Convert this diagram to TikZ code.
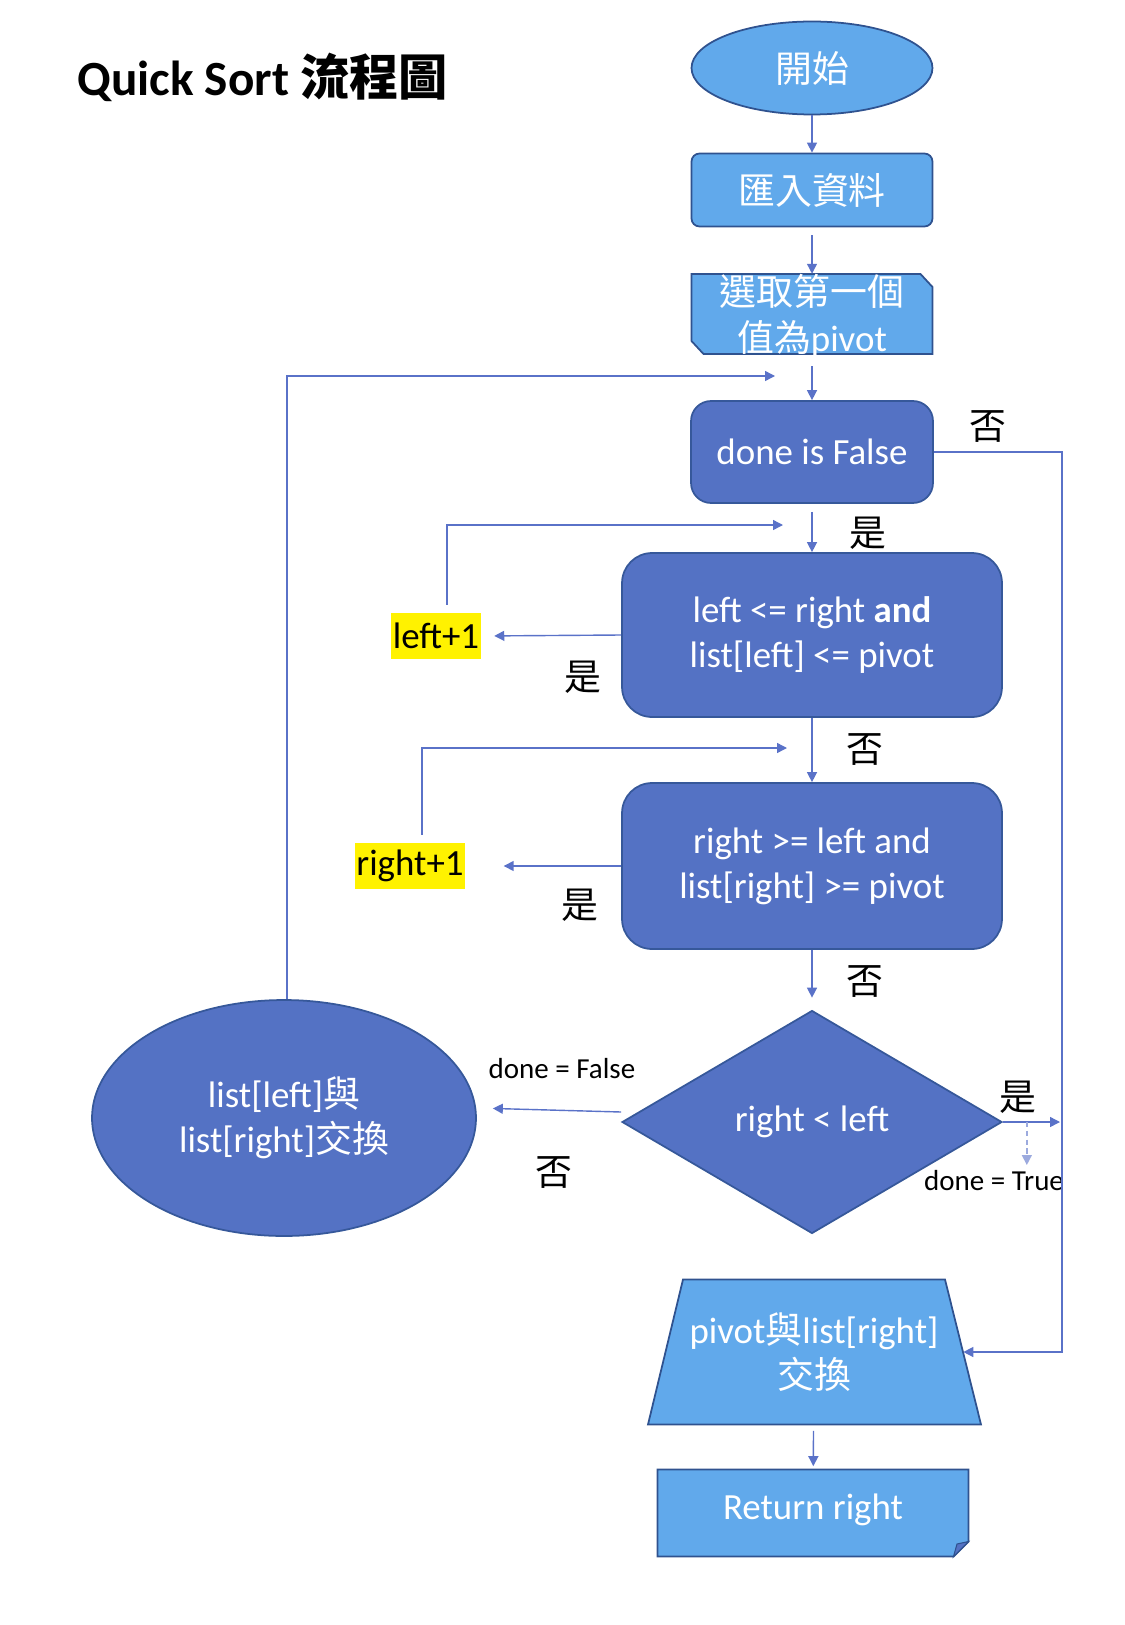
\documentclass[tikz,border=0pt]{standalone}
\usepackage{fontspec}
\setmainfont{Carlito}
\newfontfamily\cjk{Noto Sans CJK TC}
\usetikzlibrary{shapes.geometric,arrows.meta}
\definecolor{lightfill}{HTML}{61A9EB}
\definecolor{darkfill}{HTML}{5472C4}
\definecolor{edgeblue}{HTML}{2F528F}
\definecolor{flowblue}{HTML}{5A72C8}
\newcommand{\zh}[1]{{\cjk #1}}

\begin{document}
\begin{tikzpicture}[x=0.02cm, y=-0.02cm,
    every node/.style={font=\fontsize{21}{25.5}\selectfont, inner sep=0pt},
    lightbox/.style={fill=lightfill, draw=edgeblue, line width=1pt, text=white, align=center},
    darkbox/.style={fill=darkfill, draw=edgeblue!80!darkfill, line width=1pt, text=white, align=center},
    textonly/.style={text=white, align=center},
    incbox/.style={fill=yellow, inner xsep=1pt, minimum height=0.92cm},
    flow/.style={draw=flowblue, line width=0.8pt, -{Triangle[length=0.2cm,width=0.2cm]}},
    dashflow/.style={flow, draw=flowblue!60, dash pattern=on 3pt off 2pt},
    small/.style={font=\fontsize{16.5}{20}\selectfont}]
\useasboundingbox (0,0) rectangle (1125,1625);

\node[anchor=base west, font=\fontsize{28}{32}\selectfont\bfseries] (title) at (77,96) {Quick Sort \zh{流程圖}};

% outlines drawn by hand
\filldraw[lightbox, shift={(812,314)}] (-120.5,-40) -- (108.5,-40) -- (120.5,-27) -- (120.5,40) -- (-108.5,40) -- (-120.5,27) -- cycle;
\filldraw[lightbox, shift={(814,1352)}] (-131,-72.5) -- (131,-72.5) -- (167,72.5) -- (-166,72.5) -- cycle;
\filldraw[lightbox, shift={(813,1513)}] (-155.5,-43.5) -- (155.5,-43.5) -- (155.5,28.5) -- (140.5,43.5) -- (-155.5,43.5) -- cycle;
\filldraw[fill=darkfill, draw=edgeblue, line width=0.6pt, shift={(813,1513)}] (140.5,43.5) -- (144,31) -- (155.5,28.5) -- cycle;

% main column
\node[lightbox, ellipse, minimum width=4.82cm, minimum height=1.86cm] (start) at (812,68) {\zh{開始}};
\node[lightbox, rounded corners=0.16cm, minimum width=4.82cm, minimum height=1.46cm] (input) at (812,190) {\zh{匯入資料}};
\node[textonly, font=\fontsize{21}{26.5}\selectfont, minimum width=4.82cm, minimum height=1.6cm] (pick) at (812,316) {\zh{選取第一個}\\\zh{值為}pivot};
\node[darkbox, rounded corners=0.4cm, minimum width=4.84cm, minimum height=2.04cm] (done) at (812,452) {done is False};
\node[darkbox, rounded corners=0.6cm, minimum width=7.6cm, minimum height=3.28cm] (lcheck) at (812,635) {left <= right \textbf{and}\\list[left] <= pivot};
\node[darkbox, rounded corners=0.6cm, minimum width=7.6cm, minimum height=3.32cm] (rcheck) at (812,866) {right >= left and\\list[right] >= pivot};
\node[darkbox, diamond, minimum width=7.6cm, minimum height=4.46cm] (cmp) at (812,1122) {right < left};
\node[darkbox, ellipse, minimum width=7.68cm, minimum height=4.72cm] (swap) at (284,1118) {list[left]\zh{與}\\list[right]\zh{交換}};
\node[textonly, minimum width=5.96cm, minimum height=2.9cm] (pswap) at (814,1352) {pivot\zh{與}list[right]\\\zh{交換}};
\node[textonly, minimum width=6.22cm, minimum height=1.74cm] (ret) at (813,1510) {Return right};

% counters
\node[incbox] (leftinc) at (436,636) {left+1};
\node[incbox] (rightinc) at (410,866) {right+1};

% yes / no labels
\foreach \txt/\x/\y/\nm in {否/988/427/nodone, 是/868/533/yesdone, 是/583/677/yesleft,
    否/865/750/noleft, 是/580/905/yesright, 否/865/982/noright, 是/1018/1097/yescmp, 否/554/1173/nocmp}
    \node (\nm) at (\x,\y) {\zh{\txt}};
\node[small] (settrue) at (994,1181) {done = True};
\node[small] (setfalse) at (562,1069) {done = False};

% loop ends
\coordinate (toploop) at (775,376);
\coordinate (lloop) at (783,525);
\coordinate (rloop) at (787,748);
\coordinate (rail) at (1062,1352);
\coordinate (yesend) at (1060,1122);

\draw[flow] (start) -- (input);
\draw[flow, shorten <=0.16cm] (input) -- (pick);
\draw[flow, shorten <=0.16cm] (pick) -- (done);
\draw[flow, shorten <=0.16cm] (done) -- (lcheck);
\draw[flow] (done.east) -| (rail) -- (pswap.east);
\draw[flow, shorten >=0.26cm] (lcheck.west) -- (leftinc.east);
\draw[flow] ([xshift=0.22cm,yshift=0.16cm]leftinc.north) |- (lloop);
\draw[flow] (lcheck) -- (rcheck);
\draw[flow, shorten >=0.76cm] (rcheck.west) -- (rightinc.east);
\draw[flow] ([xshift=0.24cm,yshift=0.16cm]rightinc.north) |- (rloop);
\draw[flow, shorten >=0.24cm] (rcheck) -- (cmp);
\draw[flow] (cmp.east) -- (yesend);
\draw[dashflow] ([xshift=0.48cm]cmp.east) -- ([xshift=0.48cm,yshift=-0.86cm]cmp.east);
\draw[flow, shorten >=0.32cm] ([yshift=0.2cm]cmp.west) -- ([yshift=0.2cm]swap.east);
\draw[flow] ([xshift=0.06cm]swap.north) |- (toploop);
\draw[flow, shorten <=0.12cm] (pswap) -- (ret);
\end{tikzpicture}
\end{document}
